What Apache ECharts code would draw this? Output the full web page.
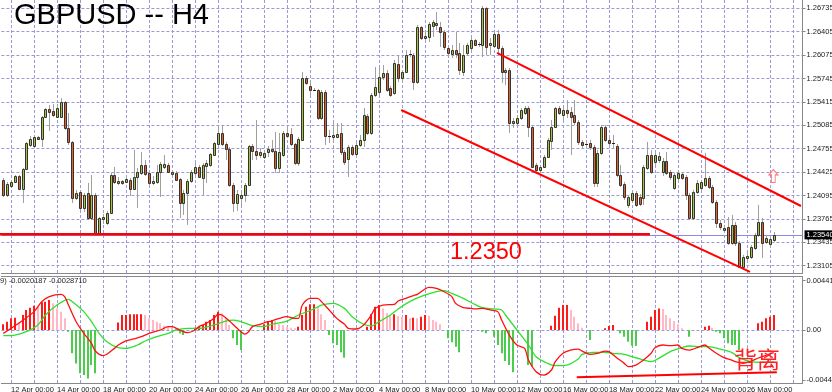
<!DOCTYPE html>
<html><head><meta charset="utf-8">
<script src="https://cdn.jsdelivr.net/npm/echarts@6/dist/echarts.min.js"></script>
<style>html,body{margin:0;padding:0;background:#fff}#c{width:832px;height:392px}</style>
</head><body><div id="c"></div>
<script>
// ---------------- DATA ----------------
const openP = [
1.24314,1.24103,1.24229,1.24286,1.24370,1.24187,1.24469,1.24808,1.24793,1.24920,
1.24892,1.25202,1.25315,1.25287,1.25202,1.25202,1.25414,1.25047,1.24850,1.24060,
1.24145,1.23919,1.24131,1.23778,1.24103,1.23567,1.23764,1.23708,1.23849,1.24385,
1.24272,1.24300,1.24286,1.24314,1.24187,1.24356,1.24413,1.24526,1.24413,1.24272,
1.24286,1.24427,1.24497,1.24526,1.24399,1.24413,1.24328,1.23990,1.24131,1.24300,
1.24413,1.24497,1.24342,1.24511,1.24526,1.24667,1.24822,1.24977,1.24822,1.24751,
1.24244,1.23990,1.24060,1.24103,1.24244,1.24793,1.24723,1.24667,1.24638,1.24709,
1.24751,1.24723,1.24483,1.24667,1.24977,1.24963,1.24822,1.24554,1.24878,1.25752,
1.25639,1.25583,1.25583,1.25188,1.25555,1.24934,1.24920,1.24920,1.24977,1.24709,
1.24610,1.24779,1.24681,1.24808,1.24878,1.25216,1.24977,1.25513,1.25555,1.25766,
1.25823,1.25611,1.25541,1.25950,1.25752,1.25837,1.26077,1.26077,1.25696,1.26471,
1.26316,1.26330,1.26485,1.26500,1.26471,1.26401,1.26175,1.26091,1.26147,1.26105,
1.25837,1.26105,1.26175,1.26288,1.26232,1.26218,1.26739,1.26218,1.26203,1.26373,
1.26175,1.25837,1.25865,1.25118,1.25118,1.25188,1.25259,1.25329,1.25061,1.24526,
1.24455,1.24497,1.24638,1.24864,1.25061,1.25329,1.25230,1.25301,1.25273,1.25230,
1.25132,1.24850,1.24808,1.24836,1.24779,1.24272,1.24695,1.25061,1.24878,1.24836,
1.24793,1.24385,1.24258,1.23962,1.24032,1.24131,1.24074,1.24060,1.24483,1.24667,
1.24568,1.24596,1.24427,1.24582,1.24427,1.24201,1.24342,1.24399,1.24356,1.24103,
1.23778,1.24145,1.24201,1.24244,1.24342,1.24215,1.24004,1.23708,1.23609,1.23651,
1.23426,1.23680,1.23426,1.23088,1.23214,1.23228,1.23355,1.23539,1.23722,1.23440,
1.23412,1.23468];
const closeP = [
1.24103,1.24258,1.24286,1.24370,1.24187,1.24469,1.24836,1.24892,1.24920,1.24892,
1.25202,1.25315,1.25273,1.25230,1.25329,1.25414,1.25047,1.24850,1.24060,1.24131,
1.23919,1.24103,1.23778,1.24103,1.23567,1.23778,1.23792,1.23849,1.24385,1.24286,
1.24300,1.24272,1.24328,1.24187,1.24356,1.24427,1.24526,1.24399,1.24272,1.24300,
1.24427,1.24540,1.24540,1.24427,1.24427,1.24314,1.23990,1.24131,1.24300,1.24427,
1.24497,1.24356,1.24526,1.24554,1.24681,1.24836,1.24977,1.24822,1.24751,1.24244,
1.23990,1.24117,1.24103,1.24244,1.24793,1.24723,1.24667,1.24709,1.24695,1.24751,
1.24723,1.24483,1.24709,1.24977,1.24934,1.24822,1.24554,1.24892,1.25752,1.25682,
1.25583,1.25583,1.25188,1.25555,1.24934,1.24920,1.24949,1.24963,1.24709,1.24568,
1.24779,1.24681,1.24808,1.24878,1.25230,1.24977,1.25513,1.25625,1.25766,1.25823,
1.25583,1.25513,1.25964,1.25752,1.25837,1.26077,1.26091,1.25696,1.26471,1.26316,
1.26344,1.26514,1.26542,1.26528,1.26401,1.26189,1.26105,1.26147,1.26091,1.25865,
1.26077,1.26218,1.26288,1.26218,1.26218,1.26739,1.26189,1.26246,1.26373,1.26175,
1.25837,1.25865,1.25118,1.25146,1.25188,1.25301,1.25329,1.25061,1.24497,1.24455,
1.24497,1.24638,1.24878,1.25061,1.25329,1.25259,1.25301,1.25259,1.25202,1.25132,
1.24850,1.24808,1.24822,1.24779,1.24272,1.24695,1.25061,1.24878,1.24836,1.24822,
1.24385,1.24244,1.24074,1.24074,1.24131,1.23962,1.23976,1.24497,1.24667,1.24427,
1.24667,1.24652,1.24582,1.24413,1.24356,1.24385,1.24413,1.24342,1.24103,1.23778,
1.24145,1.24272,1.24286,1.24342,1.24215,1.24004,1.23708,1.23651,1.23637,1.23426,
1.23680,1.23426,1.23088,1.23228,1.23242,1.23369,1.23539,1.23722,1.23426,1.23496,
1.23482,1.23539];
const lowP = [
1.24074,1.24074,1.24201,1.24272,1.24173,1.23990,1.24455,1.24779,1.24779,1.24878,
1.24779,1.25188,1.25005,1.25202,1.25188,1.25188,1.25019,1.24808,1.23990,1.24032,
1.23891,1.23863,1.23750,1.23750,1.23539,1.23539,1.23694,1.23680,1.23835,1.24258,
1.24244,1.24244,1.24272,1.24088,1.24173,1.23919,1.24385,1.24370,1.24244,1.24244,
1.24258,1.24074,1.24469,1.24413,1.24370,1.24300,1.23778,1.23821,1.23680,1.24272,
1.24385,1.24342,1.24103,1.24272,1.24497,1.24652,1.24793,1.24793,1.24596,1.24215,
1.23863,1.23877,1.23962,1.24004,1.24229,1.24596,1.24596,1.24624,1.24610,1.24638,
1.24695,1.24413,1.24413,1.24638,1.24906,1.24793,1.24526,1.24511,1.24864,1.25654,
1.25484,1.25569,1.25160,1.25160,1.24808,1.24836,1.24836,1.24906,1.24667,1.24526,
1.24356,1.24652,1.24652,1.24779,1.24779,1.24949,1.24949,1.25484,1.25513,1.25724,
1.25555,1.25484,1.25513,1.25696,1.25682,1.25823,1.26048,1.25583,1.25668,1.26288,
1.26288,1.26260,1.26330,1.26429,1.26189,1.26147,1.26048,1.26034,1.26034,1.25795,
1.25780,1.26062,1.26147,1.26203,1.26189,1.26048,1.26077,1.26077,1.26175,1.26077,
1.25682,1.25654,1.24977,1.25047,1.25090,1.25160,1.25230,1.24920,1.24483,1.24427,
1.24413,1.24483,1.24624,1.24737,1.25047,1.25230,1.25160,1.25188,1.24667,1.25090,
1.24808,1.24765,1.24765,1.24737,1.24215,1.24215,1.24667,1.24850,1.24808,1.24765,
1.24356,1.24215,1.24032,1.23919,1.23990,1.23933,1.23947,1.23962,1.24455,1.24399,
1.24526,1.24554,1.24370,1.24385,1.24314,1.24173,1.24314,1.24314,1.24032,1.23750,
1.23750,1.24117,1.24173,1.24215,1.24187,1.23976,1.23637,1.23609,1.23581,1.23398,
1.23398,1.23383,1.23073,1.23059,1.23186,1.23200,1.23327,1.23510,1.23214,1.23412,
1.23383,1.23440];
const highP = [
1.24342,1.24286,1.24314,1.24385,1.24385,1.24483,1.24850,1.24934,1.24949,1.24934,
1.25216,1.25329,1.25372,1.25386,1.25386,1.25470,1.25428,1.25259,1.24864,1.24173,
1.24173,1.24131,1.24272,1.24385,1.24131,1.23792,1.23835,1.23877,1.24413,1.24497,
1.24356,1.24314,1.24356,1.24342,1.24737,1.24483,1.24709,1.24596,1.24427,1.24370,
1.24526,1.24568,1.24667,1.24554,1.24455,1.24441,1.24342,1.24173,1.24328,1.24455,
1.24554,1.24526,1.24554,1.24596,1.24695,1.24850,1.25075,1.25075,1.24850,1.24779,
1.24272,1.24173,1.24145,1.24272,1.24808,1.24822,1.25160,1.24765,1.24737,1.24793,
1.24878,1.24991,1.24977,1.25005,1.25061,1.25047,1.24836,1.24920,1.25837,1.25780,
1.25724,1.25611,1.25597,1.25583,1.25583,1.25019,1.25118,1.25118,1.25118,1.24737,
1.24808,1.24808,1.24836,1.24949,1.25329,1.25245,1.25541,1.25907,1.25893,1.25936,
1.25865,1.25639,1.26006,1.26077,1.25865,1.26147,1.26147,1.26105,1.26500,1.26485,
1.26387,1.26542,1.26570,1.26683,1.26542,1.26429,1.26203,1.26218,1.26401,1.26246,
1.26218,1.26246,1.26316,1.26302,1.26260,1.26767,1.26753,1.26316,1.26387,1.26429,
1.26203,1.25893,1.25893,1.25188,1.25216,1.25329,1.25357,1.25357,1.25090,1.24554,
1.24526,1.24667,1.24906,1.25160,1.25343,1.25357,1.25343,1.25442,1.25343,1.25442,
1.25160,1.24878,1.24864,1.24878,1.24808,1.24737,1.25090,1.25090,1.24906,1.24949,
1.24822,1.24526,1.24286,1.24103,1.24159,1.24159,1.24117,1.24526,1.24850,1.24737,
1.24709,1.24709,1.24624,1.24709,1.24455,1.24413,1.24441,1.24427,1.24385,1.24131,
1.24173,1.24314,1.24314,1.24695,1.24370,1.24244,1.24032,1.23750,1.23680,1.23792,
1.23821,1.23722,1.23454,1.23257,1.23299,1.23398,1.23567,1.23962,1.23778,1.23539,
1.23510,1.23581];

// MACD main line (red), read at these bar indices
const macdIdx = [0,4,8,10,12,15,16,17,19,21,23,24,26,27,29,30,32,34,36,38,41,43,44,46,48,50,51,53,55,56,57,59,61,63,64,65,67,69,70,72,74,76,77,78,80,82,83,85,87,89,90,92,94,96,97,99,102,103,105,107,108,110,111,113,115,117,118,120,122,123,125,127,129,130,132,134,136,137,139,141,143,144,146,148,150,151,153,155,157,158,160,162,163,165,167,169,170,172,174,176,177,179,181,183,184,186,188,190,191,193,195,197,199,201];
const macdVal = [-0.00030,0.00060,0.00164,0.00253,0.00298,0.00318,0.00298,0.00223,0.00074,-0.00030,-0.00119,-0.00188,-0.00229,-0.00217,-0.00164,-0.00134,-0.00098,-0.00080,-0.00060,-0.00030,0.00000,0.00030,0.00030,0.00000,-0.00024,0.00000,0.00030,0.00060,0.00104,0.00140,0.00134,0.00080,0.00015,-0.00036,-0.00015,0.00030,0.00051,0.00074,0.00080,0.00104,0.00119,0.00104,0.00104,0.00223,0.00283,0.00283,0.00253,0.00179,0.00104,0.00051,0.00015,0.00009,0.00045,0.00134,0.00193,0.00223,0.00229,0.00259,0.00283,0.00307,0.00318,0.00366,0.00381,0.00372,0.00342,0.00298,0.00238,0.00199,0.00193,0.00188,0.00193,0.00179,0.00164,0.00089,-0.00045,-0.00134,-0.00164,-0.00268,-0.00372,-0.00402,-0.00357,-0.00283,-0.00208,-0.00179,-0.00170,-0.00188,-0.00217,-0.00208,-0.00188,-0.00193,-0.00247,-0.00298,-0.00327,-0.00313,-0.00268,-0.00208,-0.00158,-0.00134,-0.00140,-0.00134,-0.00164,-0.00179,-0.00158,-0.00134,-0.00158,-0.00208,-0.00247,-0.00268,-0.00283,-0.00298,-0.00280,-0.00250,-0.00225,-0.00202];
// Signal line (green)
const sigIdx = [0,3,6,9,11,14,17,18,21,23,25,27,30,32,35,37,40,43,45,48,51,55,58,60,62,65,68,70,74,77,81,83,86,89,91,94,96,98,101,103,106,109,113,115,117,120,123,125,128,130,131,134,137,139,142,144,147,150,151,154,157,159,162,164,167,169,171,174,177,179,182,184,187,190,192,195,198,201];
const sigVal = [-0.00051,-0.00045,-0.00015,0.00045,0.00134,0.00223,0.00274,0.00253,0.00164,0.00074,-0.00030,-0.00104,-0.00158,-0.00164,-0.00134,-0.00098,-0.00060,-0.00030,0.00000,0.00015,0.00015,0.00045,0.00080,0.00089,0.00074,0.00039,0.00030,0.00051,0.00080,0.00134,0.00188,0.00223,0.00238,0.00193,0.00119,0.00051,0.00036,0.00074,0.00134,0.00188,0.00253,0.00300,0.00342,0.00351,0.00327,0.00283,0.00229,0.00199,0.00188,0.00179,0.00134,0.00000,-0.00134,-0.00238,-0.00298,-0.00318,-0.00313,-0.00259,-0.00217,-0.00199,-0.00199,-0.00208,-0.00217,-0.00238,-0.00268,-0.00283,-0.00253,-0.00193,-0.00158,-0.00143,-0.00149,-0.00149,-0.00170,-0.00199,-0.00247,-0.00283,-0.00289,-0.00287];
// Histogram, one value per bar (null = not drawn)
const histVal = [
0.00051,0.00074,0.00104,0.00110,0.00068,0.00134,0.00179,0.00199,0.00217,0.00208,
0.00247,0.00253,0.00268,0.00238,0.00193,0.00164,0.00104,-0.00015,-0.00208,-0.00298,
-0.00387,-0.00402,-0.00432,-0.00313,-0.00387,null,null,null,null,null,
0.00068,0.00134,0.00134,0.00140,0.00140,0.00140,0.00140,0.00134,0.00104,0.00089,
0.00074,0.00060,0.00039,0.00030,0.00021,0.00015,-0.00030,-0.00045,null,null,
0.00021,0.00030,0.00045,0.00074,0.00089,0.00134,0.00164,0.00149,0.00104,0.00045,
-0.00074,-0.00134,-0.00179,null,null,null,null,null,0.00051,0.00080,
0.00089,0.00080,0.00051,0.00045,0.00030,0.00021,0.00015,0.00030,0.00134,0.00208,
0.00229,0.00229,0.00208,0.00140,0.00089,-0.00045,-0.00119,-0.00134,-0.00199,-0.00247,
null,null,null,null,null,0.00030,0.00140,0.00208,0.00223,0.00193,
0.00149,0.00134,0.00140,0.00125,0.00119,0.00134,0.00104,0.00110,0.00104,0.00119,
0.00134,0.00128,0.00089,0.00074,0.00051,null,-0.00074,-0.00110,-0.00149,-0.00199,
null,null,null,null,null,-0.00015,-0.00030,null,-0.00060,-0.00134,
-0.00208,-0.00277,-0.00313,-0.00378,null,null,null,-0.00313,-0.00327,null,
null,null,null,0.00039,0.00128,0.00199,0.00223,0.00223,0.00179,0.00119,
0.00060,0.00021,null,-0.00089,null,null,null,0.00015,0.00036,0.00045,
null,-0.00030,-0.00060,-0.00104,-0.00140,-0.00143,null,null,0.00074,0.00119,
0.00179,0.00193,0.00188,0.00134,0.00104,0.00080,0.00051,0.00015,null,-0.00060,
null,null,null,0.00030,0.00039,0.00021,-0.00015,-0.00030,-0.00074,-0.00119,
-0.00134,-0.00134,-0.00179,null,null,null,null,0.00060,0.00074,0.00104,
0.00119,0.00134];

const priceTicks = [1.26735,1.26405,1.26075,1.25745,1.25415,1.25085,1.24755,1.24425,1.24095,1.23765,1.23435,1.23105];
const macdTicks = [0.004417, 0, -0.004445];
const macdTickLabels = ['0.004417', '0.00', '-0.004445'];
const labelIdx = [2,14,26,38,50,62,74,86,98,110,122,134,146,158,170,182,194];
const dateLabels = ['12 Apr 00:00','14 Apr 00:00','18 Apr 00:00','20 Apr 00:00','24 Apr 00:00','26 Apr 00:00','28 Apr 00:00','2 May 00:00','4 May 00:00','8 May 00:00','10 May 00:00','12 May 00:00','16 May 00:00','18 May 00:00','22 May 00:00','24 May 00:00','26 May 00:00'];
const dayIdx = [2,8,14,20,26,32,38,44,50,56,62,68,74,80,86,92,98,104,110,116,122,128,134,140,146,152,158,164,170,176,182,188,194,200,206];

// drawn objects (bar index, price)
const supportLevel = 1.2355;
const supportSpan = [-0.87, 168.7];
const bidPrice = 1.23540;
const upperChannel = [[128.8, 1.26105], [208.1, 1.23947]];
const lowerChannel = [[103.8, 1.25301], [194.8, 1.23017]];
const divergenceLine = [[149.6, -0.00422], [201.8, -0.00378]];
const arrowMark = [200.9, 1.24370];
const macdLegendText = '9) -0.0020187 -0.0028710';

// ---------------- CHART ----------------
const FONT = "'Liberation Sans Narrow','Liberation Sans',Arial,sans-serif";
const FONT_REG = "'Liberation Sans',Arial,sans-serif";
const BULL = '#a6c23c', BEAR = '#e4622a';
const GRIDC = '#9a9ad8';
const X_MIN = -0.5, X_MAX = 208.5;
const P_MIN = 1.23002, P_MAX = 1.26852;
const M_MIN = -0.004732, M_MAX = 0.004777;

const candles = openP.map((o, i) => [i, o, closeP[i], lowP[i], highP[i]]);
const HC = ['#ff1a1a', '#ffb8c4', '#4ccc4c'];
const histData = [];
histVal.forEach((v, i) => {
  if (v == null) return;
  const prev = i > 0 ? histVal[i - 1] : null;
  let c;
  if (v >= 0) c = (prev == null || v >= prev) ? 0 : 1; else c = 2;
  histData.push([i, v, c]);
});

const dash = () => ({type: [3, 2], color: GRIDC, width: 1});
const chart = echarts.init(document.getElementById('c'), null, {renderer: 'canvas', width: 832, height: 392});
chart.setOption({
  animation: false,
  backgroundColor: '#ffffff',
  title: [
    {text: 'GBPUSD -- H4', left: 14, top: 1, padding: 0, textStyle: {fontFamily: FONT, fontSize: 29, fontWeight: 'normal', color: '#000'}},
    {text: '1.2350', left: 450, top: 241, padding: 0, textStyle: {fontFamily: FONT_REG, fontSize: 23.5, fontWeight: 'normal', color: '#ff0000'}},
    {text: macdLegendText, left: 0, top: 277, padding: 0, textStyle: {fontFamily: FONT, fontSize: 7.5, fontWeight: 'normal', color: '#222'}},
    {text: '背离', left: 734, top: 348, padding: 0, textStyle: {fontFamily: "'Noto Sans CJK SC',sans-serif", fontSize: 23, fontWeight: 'normal', color: '#ff2020'}}
  ],
  grid: [
    {left: 1.42, top: 0, width: 801.1, height: 273, outerBoundsMode: 'none', containLabel: false},
    {left: 1.42, top: 276.5, width: 801.1, height: 106.5, outerBoundsMode: 'none', containLabel: false}
  ],
  xAxis: [
    {type: 'value', gridIndex: 0, min: X_MIN, max: X_MAX, axisLine: {show: true, onZero: false, lineStyle: {color: '#888'}}, axisTick: {show: false}, axisLabel: {show: false}, splitLine: {show: false}},
    {type: 'value', gridIndex: 1, min: X_MIN, max: X_MAX, position: 'bottom', axisLine: {show: true, onZero: false, lineStyle: {color: '#888'}}, axisTick: {show: false},
      axisLabel: {show: true, customValues: labelIdx, formatter: v => dateLabels[labelIdx.indexOf(v)], align: 'left', margin: 3, fontFamily: FONT, fontSize: 7.5, color: '#222'}, splitLine: {show: false}},
    {type: 'value', gridIndex: 1, min: X_MIN, max: X_MAX, position: 'top', axisLine: {show: true, onZero: false, lineStyle: {color: '#888'}}, axisTick: {show: false}, axisLabel: {show: false}, splitLine: {show: false}}
  ],
  yAxis: [
    {type: 'value', gridIndex: 0, position: 'right', min: P_MIN, max: P_MAX, axisLine: {show: true, onZero: false, lineStyle: {color: '#888'}},
      axisTick: {show: true, length: 3, customValues: priceTicks, lineStyle: {color: '#888'}},
      axisLabel: {show: true, customValues: priceTicks, formatter: v => v.toFixed(5), margin: 4, fontFamily: FONT, fontSize: 7.5, color: '#222'}, splitLine: {show: false}},
    {type: 'value', gridIndex: 1, position: 'right', min: M_MIN, max: M_MAX, axisLine: {show: true, onZero: false, lineStyle: {color: '#888'}},
      axisTick: {show: true, length: 3, customValues: macdTicks, lineStyle: {color: '#888'}},
      axisLabel: {show: true, customValues: macdTicks, formatter: v => { const k = macdTicks.indexOf(v); return k >= 0 ? macdTickLabels[k] : ''; }, margin: 4, fontFamily: FONT, fontSize: 7.5, color: '#222'}, splitLine: {show: false}}
  ],
  series: [
    // support line + main grid lines
    {type: 'line', xAxisIndex: 0, yAxisIndex: 0, z: 5, clip: false, showSymbol: false, silent: true,
      data: [[supportSpan[0], supportLevel], [supportSpan[1], supportLevel]],
      lineStyle: {color: '#ff0000', width: 2.5},
      markLine: {silent: true, z: 1, precision: 8, symbol: ['none', 'none'], label: {show: false}, animation: false,
        data: dayIdx.map(i => ({xAxis: i, lineStyle: dash()})).concat(priceTicks.map(p => ({yAxis: p, lineStyle: dash()}))).concat([
          {yAxis: bidPrice, lineStyle: {type: 'solid', color: '#8a8ae6', width: 1},
           label: {show: true, position: 'end', distance: 2, formatter: bidPrice.toFixed(5), backgroundColor: '#000', color: '#fff', padding: [1, 2, 0, 2], fontFamily: FONT, fontSize: 7.5}}
        ])}
    },
    // candles
    {type: 'custom', xAxisIndex: 0, yAxisIndex: 0, z: 3, silent: true, data: candles, encode: {x: 0, y: [1, 2, 3, 4]},
      renderItem: function (params, api) {
        const i = api.value(0), o = api.value(1), c = api.value(2), l = api.value(3), h = api.value(4);
        const pO = api.coord([i, o]), pC = api.coord([i, c]), pL = api.coord([i, l]), pH = api.coord([i, h]);
        const cx = Math.round(pO[0]) + 0.5;
        const top = Math.min(pO[1], pC[1]), bot = Math.max(pO[1], pC[1]);
        const ch = [{type: 'line', shape: {x1: cx, y1: pH[1], x2: cx, y2: pL[1]}, style: {stroke: '#a0a0a0', lineWidth: 1}}];
        if (bot - top < 1) {
          const yy = Math.round(top) + 0.5;
          ch.push({type: 'line', shape: {x1: cx - 1.5, y1: yy, x2: cx + 1.5, y2: yy}, style: {stroke: '#222', lineWidth: 1}});
        } else {
          ch.push({type: 'rect', shape: {x: cx - 1, y: Math.round(top) + 0.5, width: 2, height: Math.max(1, Math.round(bot - top))}, style: {fill: c < o ? BEAR : BULL, stroke: '#333', lineWidth: 1}});
        }
        return {type: 'group', children: ch};
      }},
    // channel lines
    {type: 'line', xAxisIndex: 0, yAxisIndex: 0, z: 6, clip: false, showSymbol: false, silent: true, data: upperChannel, lineStyle: {color: '#ff0000', width: 2}},
    {type: 'line', xAxisIndex: 0, yAxisIndex: 0, z: 6, clip: false, showSymbol: false, silent: true, data: lowerChannel, lineStyle: {color: '#ff0000', width: 2}},
    // hollow arrow
    {type: 'scatter', xAxisIndex: 0, yAxisIndex: 0, z: 6, silent: true, data: [arrowMark],
      symbol: 'path://M4,0 L8,5 L5.6,5 L5.6,12 L2.4,12 L2.4,5 L0,5 Z', symbolSize: [9, 13],
      itemStyle: {color: '#ffffff', borderColor: '#ff5050', borderWidth: 1}},
    // histogram
    {type: 'custom', xAxisIndex: 1, yAxisIndex: 1, z: 3, silent: true, data: histData, encode: {x: 0, y: 1},
      renderItem: function (params, api) {
        const i = api.value(0), v = api.value(1), k = api.value(2);
        const p0 = api.coord([i, 0]), p1 = api.coord([i, v]);
        const x = Math.round(p0[0]) - 1;
        return {type: 'rect', shape: {x: x, y: Math.min(p0[1], p1[1]), width: 2, height: Math.abs(p1[1] - p0[1])}, style: {fill: HC[k]}};
      }},
    // MACD lines
    {type: 'line', xAxisIndex: 1, yAxisIndex: 1, z: 4, showSymbol: false, silent: true, smooth: 0.3,
      data: sigIdx.map((x, k) => [x, sigVal[k]]), lineStyle: {color: '#2ee02e', width: 1.3},
      markLine: {silent: true, z: 1, precision: 8, symbol: ['none', 'none'], label: {show: false}, animation: false,
        data: dayIdx.map(i => ({xAxis: i, lineStyle: dash()})).concat([{yAxis: 0, lineStyle: dash()}])}},
    {type: 'line', xAxisIndex: 1, yAxisIndex: 1, z: 5, showSymbol: false, silent: true, smooth: 0.3,
      data: macdIdx.map((x, k) => [x, macdVal[k]]), lineStyle: {color: '#ff1010', width: 1.3}},
    // divergence line
    {type: 'line', xAxisIndex: 1, yAxisIndex: 1, z: 6, showSymbol: false, silent: true, clip: false,
      data: divergenceLine, lineStyle: {color: '#ff0000', width: 2}}
  ]
});
</script>
</body></html>
